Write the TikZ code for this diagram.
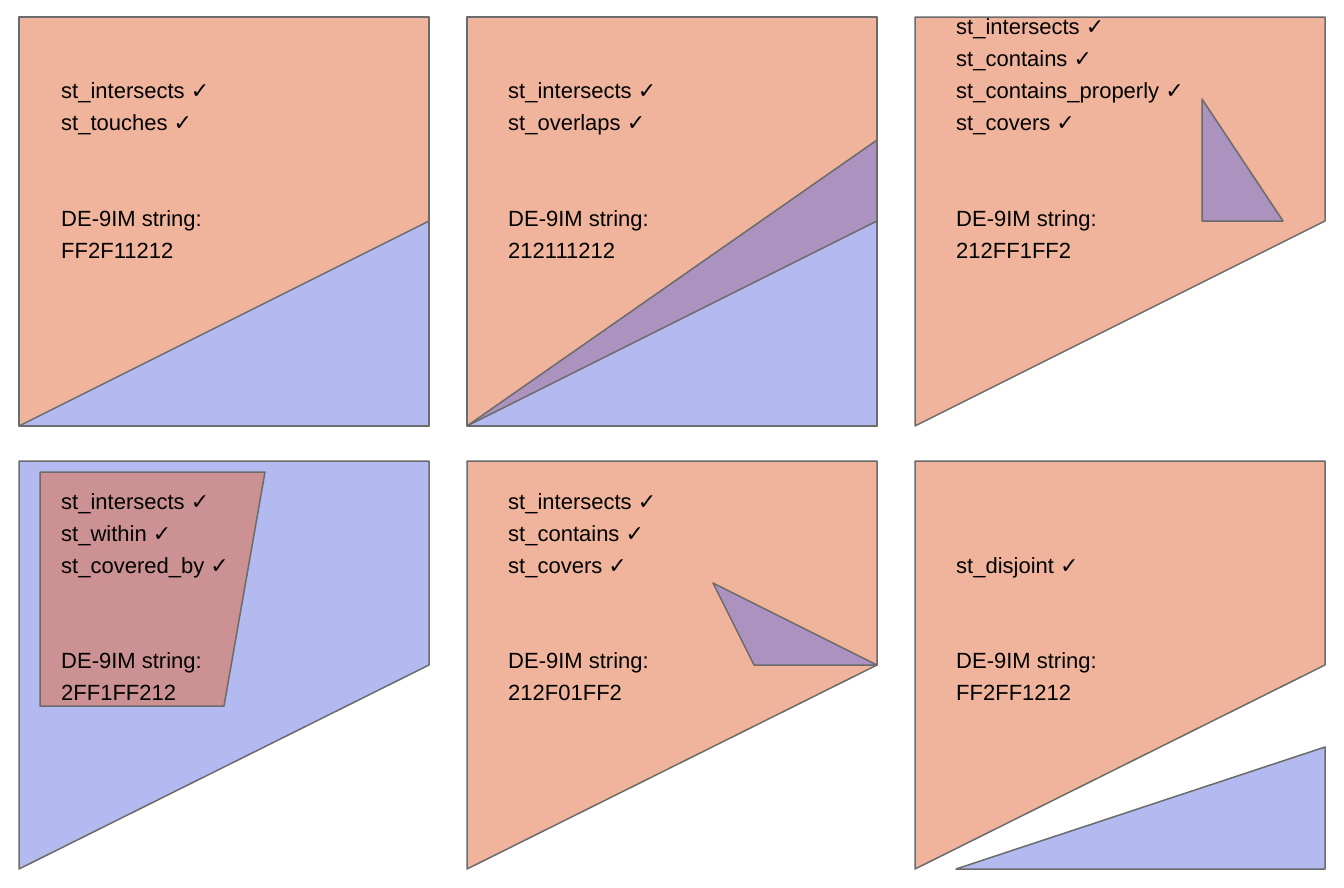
\documentclass[tikz,border=0pt]{standalone}
\usepackage{fontspec}
\setmainfont{Liberation Sans}
\newfontfamily\ckfont{DejaVu Sans}
\definecolor{orng}{HTML}{F0B49C}
\definecolor{blu}{HTML}{B2BAF0}
\definecolor{purp}{HTML}{AC93BF}
\definecolor{redd}{HTML}{CC9193}
\definecolor{edge}{HTML}{6B6B6B}
\newcommand{\ck}{{\ckfont\char"2713}}
\tikzset{
  poly/.style={draw=edge, line width=1.5pt, line join=round},
  lbl/.style={anchor=base west, inner sep=0pt, font=\fontsize{22}{26}\selectfont}
}
\begin{document}
\begin{tikzpicture}[x=1pt,y=-1pt]
\useasboundingbox[fill=white] (0,0) rectangle (1344,887);
% Panel 1
\fill[orng] (19,17) -- (429,17) -- (429,221) -- (19,426) -- cycle;
\fill[blu] (19,426) -- (429,221) -- (429,426) -- cycle;
\draw[poly] (19,17) -- (429,17) -- (429,426) -- (19,426) -- cycle;
\draw[poly] (19,426) -- (429,221);
\node[lbl] (a1) at (61,98) {st\_intersects \ck};
\node[lbl] (a2) at (61,130) {st\_touches \ck};
\node[lbl] (a3) at (61,226) {DE-9IM string:};
\node[lbl] (a4) at (61,258) {FF2F11212};
% Panel 2
\fill[orng] (467,17) -- (877,17) -- (877,221) -- (467,426) -- cycle;
\fill[blu] (467,426) -- (877,221) -- (877,426) -- cycle;
\fill[purp] (467,426) -- (877,140) -- (877,221) -- cycle;
\draw[poly] (467,17) -- (877,17) -- (877,426) -- (467,426) -- cycle;
\draw[poly] (467,426) -- (877,221);
\draw[poly] (467,426) -- (877,140);
\node[lbl] (b1) at (508,98) {st\_intersects \ck};
\node[lbl] (b2) at (508,130) {st\_overlaps \ck};
\node[lbl] (b3) at (508,226) {DE-9IM string:};
\node[lbl] (b4) at (508,258) {212111212};
% Panel 3
\filldraw[poly,fill=orng] (915,17) -- (1325,17) -- (1325,221) -- (915,426) -- cycle;
\filldraw[poly,fill=purp] (1202,99) -- (1283,221) -- (1202,221) -- cycle;
\node[lbl] (c1) at (956,34) {st\_intersects \ck};
\node[lbl] (c2) at (956,66) {st\_contains \ck};
\node[lbl] (c3) at (956,98) {st\_contains\_properly \ck};
\node[lbl] (c4) at (956,130) {st\_covers \ck};
\node[lbl] (c5) at (956,226) {DE-9IM string:};
\node[lbl] (c6) at (956,258) {212FF1FF2};
% Panel 4
\filldraw[poly,fill=blu] (19,461) -- (429,461) -- (429,665) -- (19,869) -- cycle;
\filldraw[poly,fill=redd] (40,472) -- (265,472) -- (224,706) -- (40,706) -- cycle;
\node[lbl] (d1) at (61,509) {st\_intersects \ck};
\node[lbl] (d2) at (61,541) {st\_within \ck};
\node[lbl] (d3) at (61,573) {st\_covered\_by \ck};
\node[lbl] (d4) at (61,668) {DE-9IM string:};
\node[lbl] (d5) at (61,700) {2FF1FF212};
% Panel 5
\filldraw[poly,fill=orng] (467,461) -- (877,461) -- (877,665) -- (467,869) -- cycle;
\filldraw[poly,fill=purp] (713,583) -- (877,665) -- (754,665) -- cycle;
\node[lbl] (e1) at (508,509) {st\_intersects \ck};
\node[lbl] (e2) at (508,541) {st\_contains \ck};
\node[lbl] (e3) at (508,573) {st\_covers \ck};
\node[lbl] (e4) at (508,668) {DE-9IM string:};
\node[lbl] (e5) at (508,700) {212F01FF2};
% Panel 6
\filldraw[poly,fill=orng] (915,461) -- (1325,461) -- (1325,665) -- (915,869) -- cycle;
\filldraw[poly,fill=blu] (956,869) -- (1325,747) -- (1325,869) -- cycle;
\node[lbl] (f1) at (956,573) {st\_disjoint \ck};
\node[lbl] (f2) at (956,668) {DE-9IM string:};
\node[lbl] (f3) at (956,700) {FF2FF1212};
\end{tikzpicture}
\end{document}
